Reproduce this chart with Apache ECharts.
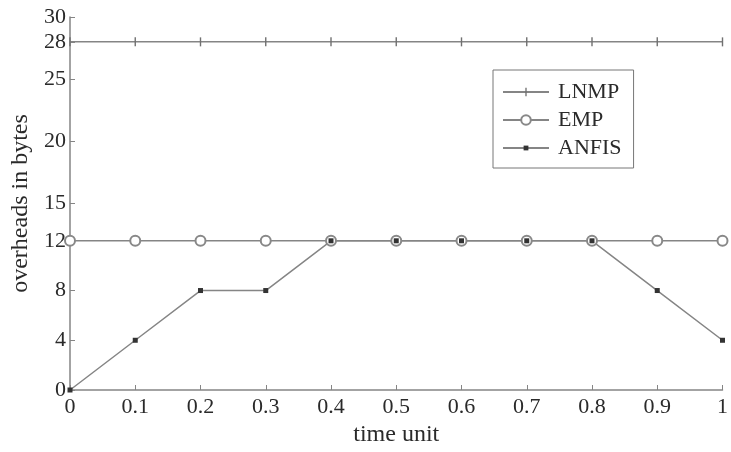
<!DOCTYPE html>
<html><head><meta charset="utf-8">
<script src="https://cdn.jsdelivr.net/npm/echarts@6/dist/echarts.min.js"></script>
<style>html,body{margin:0;padding:0;background:#fff}#c{width:731px;height:452px}</style>
</head><body><div id="c"></div>
<script>
const xValues = [0, 0.1, 0.2, 0.3, 0.4, 0.5, 0.6, 0.7, 0.8, 0.9, 1];
const lnmp = [28, 28, 28, 28, 28, 28, 28, 28, 28, 28, 28];
const emp = [12, 12, 12, 12, 12, 12, 12, 12, 12, 12, 12];
const anfis = [0, 4, 8, 8, 12, 12, 12, 12, 12, 8, 4];
const yTicks = [0, 4, 8, 12, 15, 20, 25, 28, 30];
const seriesNames = ['LNMP', 'EMP', 'ANFIS'];

const font = 'Liberation Serif';
const lineCol = '#858585';
const txt = '#2a2a2a';
const plusSym = 'path://M0,0 M10,10 M4.3,0.5 h1.4 v9 h-1.4 Z';
const dotSym = 'path://M0,0 M10,10 M2.5,2.5 h5 v5 h-5 Z';
function pairs(v){ return xValues.map((x,i)=>[x, v[i]]); }

const chart = echarts.init(document.getElementById('c'));
chart.setOption({
  animation: false,
  grid: {left: 70, right: 6, top: 17, bottom: 60, containLabel: false},
  legend: {
    orient: 'vertical', left: 493, top: 70, width: 141,
    data: seriesNames,
    itemWidth: 46, itemHeight: 12, itemGap: 6,
    padding: [11, 12, 9, 9],
    borderColor: '#777', borderWidth: 1,
    textStyle: {fontFamily: font, fontSize: 22, color: txt, lineHeight: 22, padding: [0,0,0,4]}
  },
  xAxis: {
    type: 'value', min: 0, max: 1, interval: 0.1,
    name: 'time unit', nameLocation: 'middle', nameGap: 33,
    nameTextStyle: {fontFamily: font, fontSize: 24, color: txt},
    axisLine: {show: true, lineStyle: {color: lineCol, width: 1.5}},
    axisTick: {show: true, inside: true, length: 5, lineStyle: {color: lineCol}},
    axisLabel: {fontFamily: font, fontSize: 22, color: txt, margin: 6,
      formatter: v => String(Math.round(v*10)/10)},
    splitLine: {show: false}
  },
  yAxis: {
    type: 'value', min: 0, max: 30,
    name: 'overheads in bytes', nameLocation: 'middle', nameGap: 36,
    nameTextStyle: {fontFamily: font, fontSize: 24, color: txt},
    axisLine: {show: true, lineStyle: {color: lineCol, width: 1.5}},
    axisTick: {show: true, inside: true, length: 5, customValues: yTicks, lineStyle: {color: lineCol}},
    axisLabel: {fontFamily: font, fontSize: 22, color: txt, margin: 4, customValues: yTicks},
    splitLine: {show: false}
  },
  series: [
    {name: 'LNMP', type: 'line', data: pairs(lnmp), symbol: plusSym, symbolSize: 10,
     lineStyle: {color: lineCol, width: 1.5}, itemStyle: {color: '#707070'}},
    {name: 'EMP', type: 'line', data: pairs(emp), symbol: 'emptyCircle', symbolSize: 10,
     lineStyle: {color: lineCol, width: 1.5}, itemStyle: {color: '#888', borderColor: '#888', borderWidth: 1.2}},
    {name: 'ANFIS', type: 'line', data: pairs(anfis), symbol: dotSym, symbolSize: 10,
     lineStyle: {color: lineCol, width: 1.5}, itemStyle: {color: '#333'}}
  ]
});
</script></body></html>
